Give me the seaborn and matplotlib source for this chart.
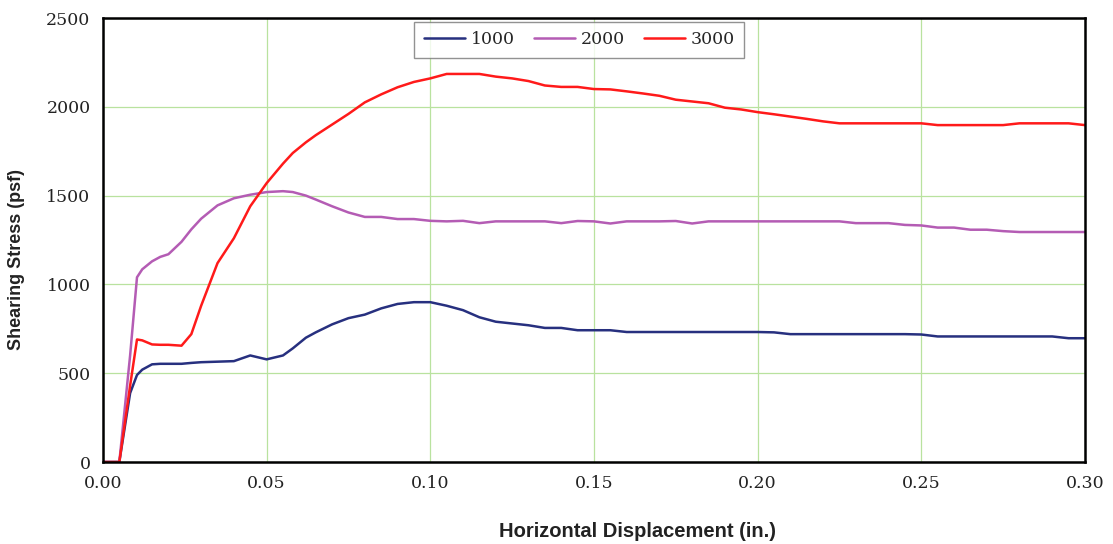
import matplotlib

matplotlib.use("Agg")
import matplotlib.pyplot as plt
import pandas as pd
import seaborn as sns
from matplotlib.ticker import FormatStrFormatter

# horizontal displacement (in.)
DISPLACEMENT = [
    0, 0.005, 0.0083, 0.0104, 0.012, 0.015, 0.0175, 0.02, 0.024, 0.027,
    0.03, 0.035, 0.04, 0.045, 0.05, 0.055, 0.058, 0.062, 0.065, 0.07,
    0.075, 0.08, 0.085, 0.09, 0.095, 0.10, 0.105, 0.11, 0.115, 0.12,
    0.125, 0.13, 0.135, 0.14, 0.145, 0.15, 0.155, 0.16, 0.165, 0.17,
    0.175, 0.18, 0.185, 0.19, 0.195, 0.20, 0.205, 0.21, 0.215, 0.22,
    0.225, 0.23, 0.235, 0.24, 0.245, 0.25, 0.255, 0.26, 0.265, 0.27,
    0.275, 0.28, 0.285, 0.29, 0.295, 0.30,
]

# shearing stress (psf) for each normal load
STRESS_1000 = [
    0, 0, 388, 490, 520, 550, 553, 553, 553, 558,
    562, 565, 568, 600, 578, 600, 640, 700, 730, 775,
    810, 830, 865, 890, 900, 900, 880, 855, 815, 790,
    780, 770, 755, 755, 742, 742, 742, 732, 732, 732,
    732, 732, 732, 732, 732, 732, 730, 720, 720, 720,
    720, 720, 720, 720, 720, 718, 707, 707, 707, 707,
    707, 707, 707, 707, 697, 697,
]
STRESS_2000 = [
    0, 0, 600, 1040, 1085, 1130, 1155, 1170, 1240, 1310,
    1370, 1445, 1485, 1505, 1520, 1525, 1520, 1500, 1478, 1440,
    1405, 1380, 1380, 1368, 1368, 1358, 1355, 1358, 1345, 1355,
    1355, 1355, 1355, 1345, 1357, 1355, 1343, 1355, 1355, 1355,
    1357, 1343, 1355, 1355, 1355, 1355, 1355, 1355, 1355, 1355,
    1355, 1345, 1345, 1345, 1335, 1332, 1320, 1320, 1308, 1308,
    1300, 1295, 1295, 1295, 1295, 1295,
]
STRESS_3000 = [
    0, 0, 430, 690, 685, 662, 660, 660, 655, 720,
    880, 1120, 1260, 1440, 1570, 1680, 1740, 1800, 1840, 1900,
    1960, 2025, 2070, 2110, 2140, 2160, 2185, 2185, 2185, 2170,
    2160, 2145, 2120, 2112, 2112, 2100, 2098, 2087, 2075, 2062,
    2040, 2030, 2020, 1995, 1985, 1970, 1958, 1945, 1932, 1918,
    1907, 1907, 1907, 1907, 1907, 1907, 1897, 1897, 1897, 1897,
    1897, 1907, 1907, 1907, 1907, 1897,
]

SERIES = ["1000", "2000", "3000"]
COLORS = ["#27307f", "#b45cb4", "#ff1a1a"]


def build_frame() -> pd.DataFrame:
    frames = []
    for name, values in zip(SERIES, [STRESS_1000, STRESS_2000, STRESS_3000]):
        frames.append(pd.DataFrame({"disp": DISPLACEMENT, "stress": values, "load": name}))
    return pd.concat(frames, ignore_index=True)


def main() -> None:
    sns.set_theme(style="white")
    plt.rcParams["font.family"] = ["DejaVu Serif"]

    fig = plt.figure(figsize=(11.13, 5.44), dpi=100)
    ax = fig.add_axes([0.0925, 0.1507, 0.8823, 0.8162])

    df = build_frame()
    sns.lineplot(
        data=df, x="disp", y="stress", hue="load", hue_order=SERIES,
        palette=COLORS, linewidth=1.8, ax=ax, legend=False,
    )

    ax.set_xlim(0, 0.30)
    ax.set_ylim(0, 2500)
    ax.set_xticks([0, 0.05, 0.10, 0.15, 0.20, 0.25, 0.30])
    ax.set_yticks([0, 500, 1000, 1500, 2000, 2500])
    ax.xaxis.set_major_formatter(FormatStrFormatter("%.2f"))
    ax.grid(True, color="#b9e29f", linewidth=0.9)
    ax.set_axisbelow(True)
    ax.tick_params(axis="both", direction="out", length=5, width=0.8, colors="#777777",
                   labelcolor="#222222", labelsize=12.5, pad=4)
    for spine in ax.spines.values():
        spine.set_color("black")
        spine.set_linewidth(1.8)

    ax.set_xlabel("Horizontal Displacement (in.)", family="Liberation Sans", fontweight="bold",
                  fontsize=14.5, color="#222222")
    ax.set_ylabel("Shearing Stress (psf)", family="Liberation Sans", fontweight="bold",
                  fontsize=13, color="#222222")
    ax.xaxis.set_label_coords(0.544, -0.135)
    ax.yaxis.set_label_coords(-0.079, 0.457)

    handles = [plt.Line2D([], [], color=c, linewidth=1.8) for c in COLORS]
    leg = ax.legend(handles, SERIES, ncol=3, loc="upper center", bbox_to_anchor=(0.485, 0.992),
                    frameon=True, fancybox=False, fontsize=12.5, handlelength=2.4,
                    columnspacing=1.1, handletextpad=0.3, borderpad=0.55, borderaxespad=0.0)
    leg.get_frame().set_edgecolor("#777777")
    leg.get_frame().set_linewidth(1.0)

    fig.savefig("out.png", dpi=100)
    plt.close(fig)


if __name__ == "__main__":
    main()
